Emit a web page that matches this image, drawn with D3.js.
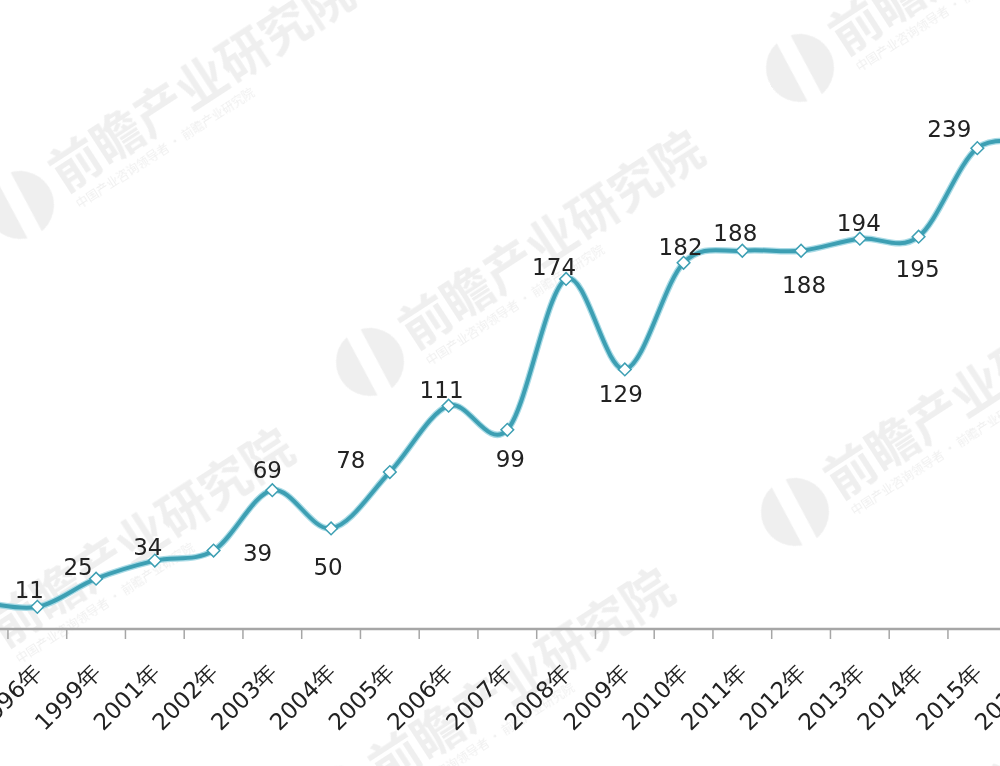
<!DOCTYPE html>
<html>
<head>
<meta charset="utf-8">
<script src="https://cdn.jsdelivr.net/npm/d3@7"></script>
<style>
  html, body { margin: 0; padding: 0; background: #fff; overflow: hidden; }
  svg { display: block; }
</style>
</head>
<body>
<div id="chart"></div>
<script>
// Serie anual (la imagen esta recortada: 1995 y 2016 quedan fuera del cuadro)
const YEARS = ['1995年', '1996年', '1999年', '2001年', '2002年', '2003年', '2004年', '2005年', '2006年',
  '2007年', '2008年', '2009年', '2010年', '2011年', '2012年', '2013年', '2014年', '2015年', '2016年'];
const VALUES = [14, 11, 25, 34, 39, 69, 50, 78, 111, 99, 174, 129, 182, 188, 188, 194, 195, 239, 240];
const Y_DOMAIN = [0, 250];

// desplazamiento de cada etiqueta de valor respecto a su punto (colocadas a mano en el original)
const LABEL_NUDGE = [[-5, -18], [-8, -17], [-18, -12], [-7, -14], [44, 2], [-5, -20], [-3, 39], [-39, -12],
  [-7, -16], [3, 29], [-12, -12], [-4, 25], [-3, -16], [-7, -18], [3, 34], [-1, -16], [-1, 32], [-28, -19], [0, -18]];

const W = 1000, H = 766;
const svg = d3.select('#chart').append('svg').attr('width', W).attr('height', H);

// marcas de agua (logo + texto) muy tenues, detras del grafico
const wm = svg.append('g').attr('fill', '#d9d9d9').attr('opacity', 0.42);
[[20, 205], [370, 362], [800, 68], [795, 512], [-40, 660], [340, 800], [960, 820]].forEach(([cx, cy]) => {
  const g = wm.append('g').attr('transform', `translate(${cx},${cy}) rotate(-33)`);
  g.append('circle').attr('r', 34);
  g.append('path').attr('d', 'M-6,-34 L10,-34 L4,34 L-12,34 Z').attr('fill', '#fff');
  g.append('text').attr('x', 44).attr('y', 14)
    .attr('font-family', '"Noto Sans CJK SC", sans-serif').attr('font-size', '50px').attr('font-weight', 700)
    .text('前瞻产业研究院');
  g.append('text').attr('x', 48).attr('y', 36)
    .attr('font-family', '"Noto Sans CJK SC", sans-serif').attr('font-size', '12px')
    .text('中国产业咨询领导者 · 前瞻产业研究院');
});

const x = d3.scaleBand().domain(YEARS).range([-50.8, -50.8 + 58.75 * YEARS.length]).padding(0);
const y = d3.scaleLinear().domain(Y_DOMAIN).range([629, 126]);
const cx = d => x(d) + x.bandwidth() / 2;

// eje X con marcas entre categorias
const axisY = y(0);
svg.append('line').attr('x1', 0).attr('x2', W).attr('y1', axisY).attr('y2', axisY)
  .attr('stroke', '#a6a6a6').attr('stroke-width', 2.5);
YEARS.forEach(d => {
  svg.append('line').attr('x1', x(d)).attr('x2', x(d)).attr('y1', axisY).attr('y2', axisY + 10)
    .attr('stroke', '#a6a6a6').attr('stroke-width', 1.5);
  svg.append('text')
    .attr('transform', `translate(${cx(d) + 6},${axisY + 45}) rotate(-45)`)
    .attr('text-anchor', 'end')
    .attr('font-family', '"DejaVu Sans", Verdana, sans-serif').attr('font-size', '23px')
    .attr('fill', '#222')
    .text(d);
});

// linea suavizada
const pts = YEARS.map((d, i) => [cx(d), y(VALUES[i])]);
const line = d3.line().curve(d3.curveCardinal.tension(0));
svg.append('path').attr('d', line(pts)).attr('fill', 'none')
  .attr('stroke', '#a9dbe6').attr('stroke-width', 6.5).attr('stroke-linejoin', 'round');
svg.append('path').attr('d', line(pts)).attr('fill', 'none')
  .attr('stroke', '#3d9fb3').attr('stroke-width', 4).attr('stroke-linejoin', 'round');

// marcadores rombo
const diamond = d3.symbol().type(d3.symbolSquare).size(80);
pts.forEach(([px, py]) => {
  svg.append('path').attr('d', diamond())
    .attr('transform', `translate(${px},${py}) rotate(45)`)
    .attr('fill', '#fff').attr('stroke', '#3d9fb3').attr('stroke-width', 1.5);
});

// etiquetas de valor
pts.forEach(([px, py], i) => {
  const [dx, dy] = LABEL_NUDGE[i];
  svg.append('text')
    .attr('x', px + dx).attr('y', py + dy)
    .attr('text-anchor', 'middle').attr('dominant-baseline', 'central')
    .attr('font-family', '"DejaVu Sans", Verdana, sans-serif').attr('font-size', '23px')
    .attr('fill', '#222')
    .text(VALUES[i]);
});
</script>
</body>
</html>
